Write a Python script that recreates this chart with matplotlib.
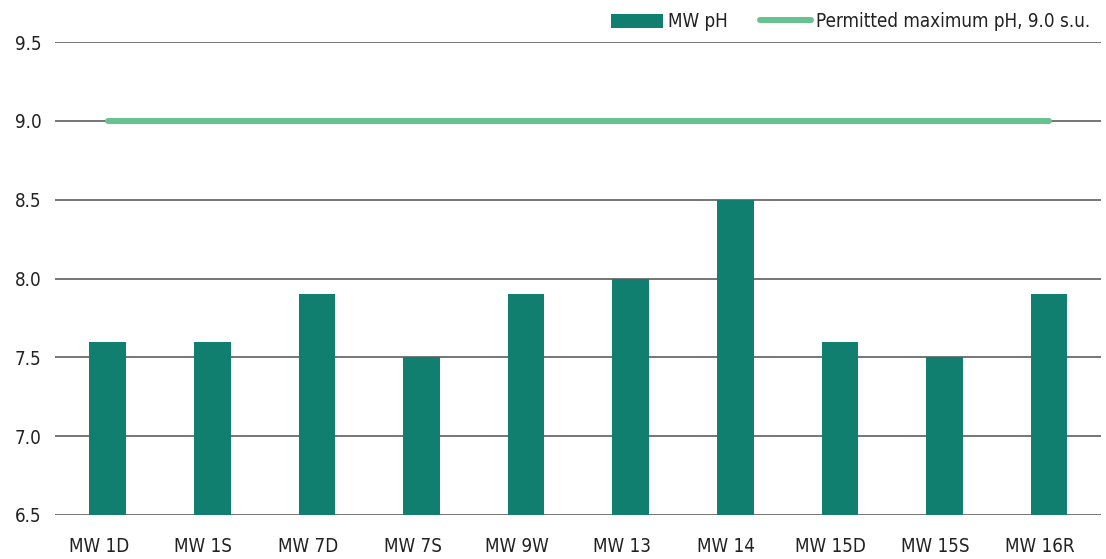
import matplotlib
matplotlib.use("Agg")
import matplotlib.pyplot as plt
import matplotlib.transforms as mtransforms
from matplotlib.lines import Line2D
from matplotlib.patches import Patch

categories = ["MW 1D", "MW 1S", "MW 7D", "MW 7S", "MW 9W", "MW 13", "MW 14", "MW 15D", "MW 15S", "MW 16R"]
ph_values = [7.6, 7.6, 7.9, 7.5, 7.9, 8.0, 8.5, 7.6, 7.5, 7.9]
max_ph = [9.0] * len(categories)
yticks = [6.5, 7.0, 7.5, 8.0, 8.5, 9.0, 9.5]

plt.rcParams['font.family'] = ['DejaVu Sans']
plt.rcParams['font.stretch'] = 'condensed'

BAR = "#107f6f"
LINE = "#66c28e"
TXT = "#222222"
FS = 13.5

fig = plt.figure(figsize=(11.06, 5.59), dpi=100)
ax = fig.add_axes([55.4 / 1106, 44 / 559, 1046 / 1106, (515 - 42) / 559])

x = list(range(len(categories)))
ax.bar(x, [v - 6.5 for v in ph_values], bottom=6.5, width=0.35, color=BAR, zorder=3)
ax.plot(x, max_ph, color=LINE, lw=4.3, solid_capstyle='round', zorder=4)

ax.set_xlim(-0.5, len(categories) - 0.5)
ax.set_ylim(6.5, 9.5)
ax.set_yticks(yticks)
ax.set_yticklabels([f"{t:.1f}" for t in yticks])
ax.set_xticks(x)
ax.set_xticklabels(categories)
ax.yaxis.grid(True, color="#505050", lw=1.1, zorder=1)
ax.set_axisbelow(True)
for s in ax.spines.values():
    s.set_visible(False)
ax.tick_params(axis='both', length=0, labelsize=FS, colors=TXT)
ax.tick_params(axis='y', pad=10)
ax.tick_params(axis='x', pad=16)

offset = mtransforms.ScaledTranslation(-9 / 100, 0, fig.dpi_scale_trans)
for lab in ax.get_xticklabels():
    lab.set_transform(lab.get_transform() + offset)

handles = [Patch(facecolor=BAR, edgecolor='none'),
           Line2D([0], [0], color=LINE, lw=4.3, solid_capstyle='round')]
leg = fig.legend(handles, ["MW pH", "Permitted maximum pH, 9.0 s.u."],
                 loc='upper right', bbox_to_anchor=(0.997, 1.0),
                 ncol=2, frameon=False, fontsize=FS, handlelength=2.75,
                 handleheight=0.75, handletextpad=0.27, columnspacing=1.7,
                 borderaxespad=0.25)
for t in leg.get_texts():
    t.set_color(TXT)

fig.savefig("out.png", dpi=100)
